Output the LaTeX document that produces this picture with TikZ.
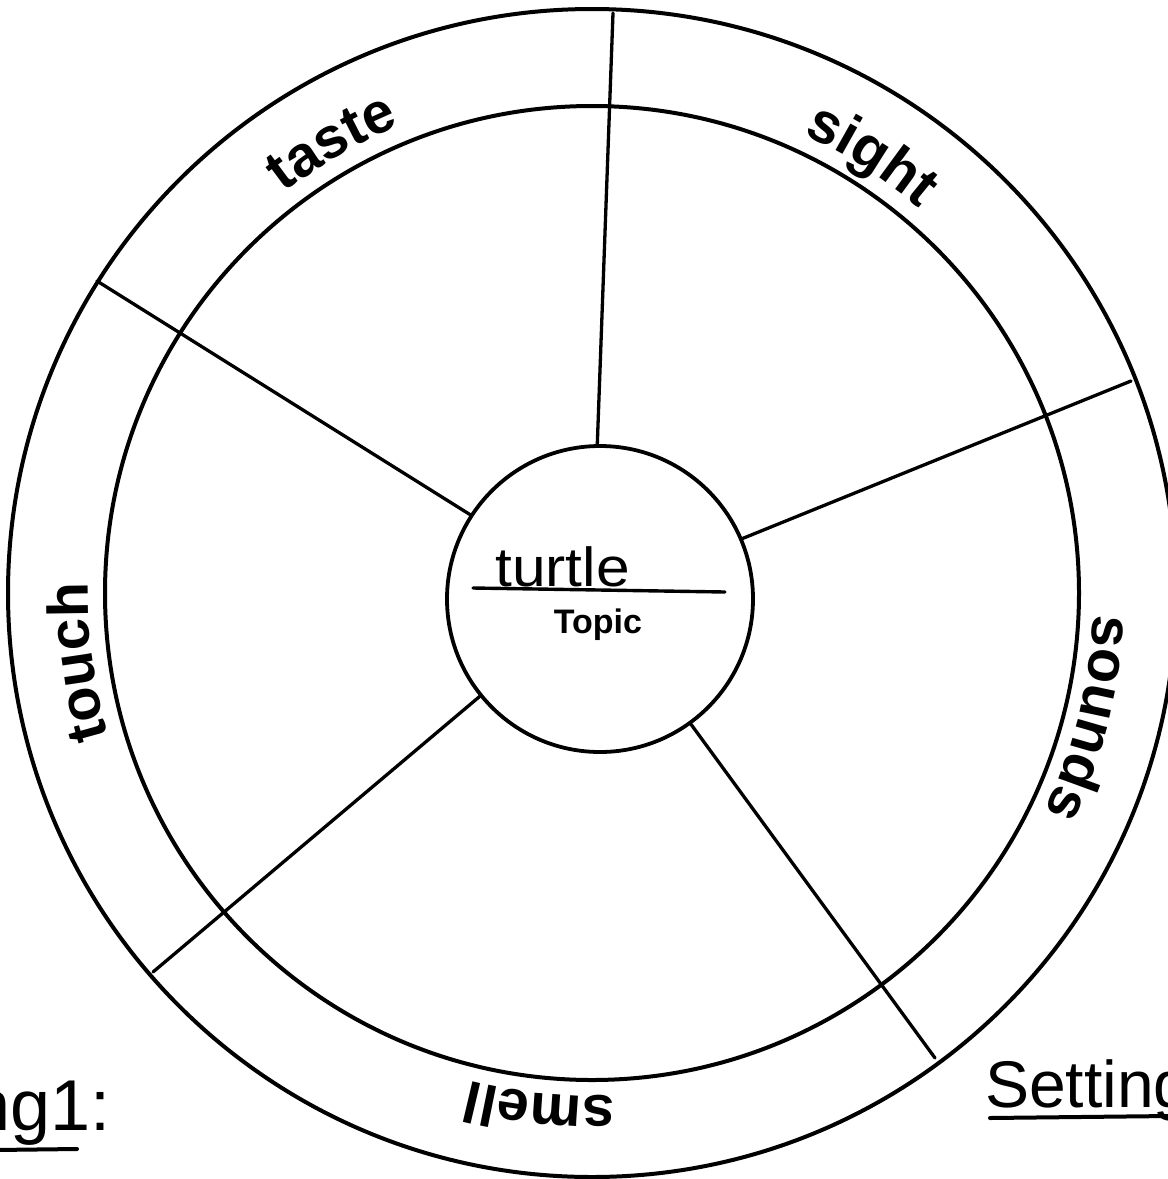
\documentclass[tikz,border=0pt]{standalone}
\usepackage{fontspec}
\setmainfont{Liberation Sans}
\usetikzlibrary{decorations.text}
\newcommand\senseFont{\fontsize{57.5pt}{60pt}\selectfont\bfseries}
\begin{document}
\begin{tikzpicture}[x=1pt,y=1pt,
  ring/.style={draw=black, line width=4pt},
  spoke/.style={draw=black, line width=3.3pt, line cap=round},
  hand/.style={anchor=base west, inner sep=0pt},
  underline/.style={draw=black, line width=4pt, line cap=round},
  sense/.style={decorate, decoration={text along path, text align=center, text={#1}}}]
\useasboundingbox (0,0) rectangle (1168,-1179);
\clip (0,0) rectangle (1168,-1179);
\fill[white] (0,0) rectangle (1168,-1179);
\coordinate (C) at (592,-593);
% rings
\draw[ring] (C) circle[radius=584];
\draw[ring] (C) circle[radius=487];
% topic circle
\node[circle, draw=black, line width=3.8pt, minimum size=306pt, inner sep=0pt] (topic) at (600,-599) {};
% spoke ends
\coordinate (e1) at (613,-13);
\coordinate (e2) at (1131,-381);
\coordinate (e3) at (935,-1058);
\coordinate (e4) at (153,-972);
\coordinate (e5) at (97,-281);
\draw[spoke] (topic.91.8) -- (e1);
\draw[spoke] (topic.23.6) -- (e2);
\draw[spoke] (topic.-54.2) -- (e3);
\draw[spoke] (topic.219.7) -- (e4);
\draw[spoke] (topic.147.4) -- (e5);
% sense labels along the ring
\path[sense={|\senseFont|taste}] ([shift={(C)}]150:505) arc[start angle=150, end angle=90, radius=505];
\path[sense={|\senseFont|sight}] ([shift={(C)}]87.4:505) arc[start angle=87.4, end angle=27.4, radius=505];
\path[sense={|\senseFont|sounds}] ([shift={(C)}]15.9:502) arc[start angle=15.9, end angle=-44.1, radius=502];
\path[sense={|\senseFont|smell}] ([shift={(C)}]294.2:503) arc[start angle=294.2, end angle=234.2, radius=503];
\path[sense={|\senseFont|touch}] ([shift={(C)}]217.7:504) arc[start angle=217.7, end angle=157.7, radius=504];
% topic content
\node[hand, font=\fontsize{55pt}{55pt}\selectfont, xscale=1.1] (turtle) at (495,-586) {turtle};
\coordinate (tl1) at (473,-588);
\coordinate (tl2) at (725,-592);
\draw[underline, line width=3.4pt] (tl1) -- (tl2);
\node[anchor=base, inner sep=0pt, font=\bfseries\fontsize{34pt}{34pt}\selectfont] (topiclabel) at (598,-633) {Topic};
% handwritten margin notes
\node[hand, font=\fontsize{66pt}{66pt}\selectfont] (setting) at (985,-1107) {Setting};
\coordinate (su1) at (990,-1118);
\coordinate (su2) at (1170,-1116);
\draw[underline] (su1) -- (su2);
\node[hand, font=\fontsize{72pt}{72pt}\selectfont] (left) at (-30,-1130) {ng1:};
\coordinate (lu1) at (-5,-1150);
\coordinate (lu2) at (77,-1149);
\draw[underline] (lu1) -- (lu2);
\end{tikzpicture}
\end{document}
